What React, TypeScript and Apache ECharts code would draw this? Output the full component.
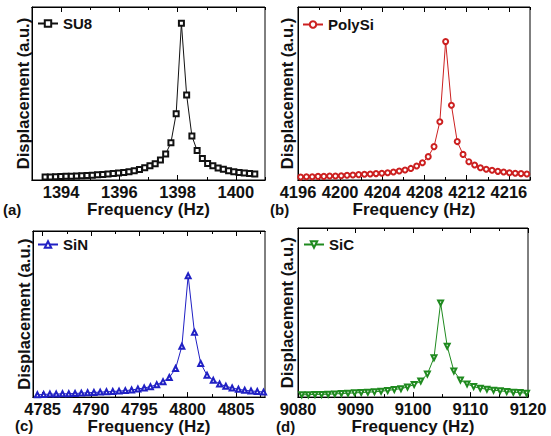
import React, { useEffect, useRef } from "react";
import * as echarts from "echarts";

// Frequency sweeps (Hz) and normalised displacement amplitudes for each resonator
const su8Freq = [1393.45, 1393.63, 1393.81, 1393.99, 1394.17, 1394.35, 1394.53, 1394.71, 1394.89, 1395.07, 1395.25, 1395.43, 1395.61, 1395.79, 1395.97, 1396.15, 1396.33, 1396.51, 1396.69, 1396.87, 1397.05, 1397.23, 1397.41, 1397.59, 1397.77, 1397.95, 1398.13, 1398.31, 1398.49, 1398.67, 1398.85, 1399.03, 1399.21, 1399.39, 1399.57, 1399.75, 1399.93, 1400.11, 1400.29, 1400.47, 1400.65];
const su8Disp = [0.017, 0.018, 0.019, 0.02, 0.021, 0.022, 0.023, 0.025, 0.026, 0.028, 0.03, 0.032, 0.034, 0.037, 0.04, 0.044, 0.048, 0.054, 0.061, 0.071, 0.083, 0.094, 0.116, 0.15, 0.216, 0.383, 0.906, 0.491, 0.254, 0.17, 0.125, 0.096, 0.083, 0.069, 0.062, 0.054, 0.048, 0.044, 0.04, 0.037, 0.035];

const polySiFreq = [4196.25, 4196.8, 4197.35, 4197.9, 4198.45, 4199.0, 4199.55, 4200.1, 4200.65, 4201.2, 4201.75, 4202.3, 4202.85, 4203.4, 4203.95, 4204.5, 4205.05, 4205.6, 4206.15, 4206.7, 4207.25, 4207.8, 4208.35, 4208.9, 4209.45, 4210.0, 4210.55, 4211.1, 4211.65, 4212.2, 4212.75, 4213.3, 4213.85, 4214.4, 4214.95, 4215.5, 4216.05, 4216.6, 4217.15, 4217.7];
const polySiDisp = [0.017, 0.019, 0.019, 0.021, 0.021, 0.023, 0.023, 0.025, 0.027, 0.029, 0.031, 0.033, 0.035, 0.037, 0.039, 0.042, 0.046, 0.052, 0.058, 0.067, 0.081, 0.1, 0.135, 0.193, 0.337, 0.8, 0.432, 0.222, 0.148, 0.106, 0.087, 0.071, 0.062, 0.056, 0.05, 0.046, 0.042, 0.039, 0.037, 0.035];

const siNFreq = [4784.45, 4785.1, 4785.75, 4786.4, 4787.05, 4787.7, 4788.35, 4789.0, 4789.65, 4790.3, 4790.95, 4791.6, 4792.25, 4792.9, 4793.55, 4794.2, 4794.85, 4795.5, 4796.15, 4796.8, 4797.45, 4798.1, 4798.75, 4799.4, 4800.05, 4800.7, 4801.35, 4802.0, 4802.65, 4803.3, 4803.95, 4804.6, 4805.25, 4805.9, 4806.55, 4807.2, 4807.85];
const siNDisp = [0.014, 0.016, 0.018, 0.018, 0.02, 0.02, 0.022, 0.024, 0.026, 0.028, 0.03, 0.032, 0.034, 0.036, 0.039, 0.043, 0.049, 0.055, 0.063, 0.075, 0.093, 0.118, 0.172, 0.306, 0.73, 0.391, 0.203, 0.132, 0.101, 0.079, 0.065, 0.055, 0.047, 0.041, 0.037, 0.034, 0.03];

const siCFreq = [9080.65, 9081.8, 9082.95, 9084.1, 9085.25, 9086.4, 9087.55, 9088.7, 9089.85, 9091.0, 9092.15, 9093.3, 9094.45, 9095.6, 9096.75, 9097.9, 9099.05, 9100.2, 9101.35, 9102.5, 9103.65, 9104.8, 9105.95, 9107.1, 9108.25, 9109.4, 9110.55, 9111.7, 9112.85, 9114.0, 9115.15, 9116.3, 9117.45, 9118.6, 9119.75];
const siCDisp = [0.014, 0.014, 0.016, 0.016, 0.017, 0.019, 0.021, 0.023, 0.025, 0.027, 0.029, 0.031, 0.035, 0.039, 0.045, 0.05, 0.06, 0.074, 0.095, 0.136, 0.233, 0.557, 0.301, 0.155, 0.101, 0.078, 0.062, 0.052, 0.047, 0.041, 0.037, 0.033, 0.029, 0.027, 0.023];

// Axis ranges and tick positions
const su8Range = [1393, 1401];
const su8Major = [1394, 1396, 1398, 1400];
const su8Minor = [1393, 1395, 1397, 1399, 1401];

const polySiRange = [4196, 4218];
const polySiMajor = [4196, 4200, 4204, 4208, 4212, 4216];
const polySiMinor = [4198, 4202, 4206, 4210, 4214, 4218];

const siNRange = [4784, 4808];
const siNMajor = [4785, 4790, 4795, 4800, 4805];
const siNMinor = [4787.5, 4792.5, 4797.5, 4802.5, 4807.5];

const siCRange = [9080, 9120];
const siCMajor = [9080, 9090, 9100, 9110, 9120];
const siCMinor = [9085, 9095, 9105, 9115];

const FONT = '"Liberation Sans", Arial, sans-serif';

type Panel = {
  name: string;
  tag: string;
  freq: number[];
  disp: number[];
  range: number[];
  major: number[];
  minor: number[];
  color: string;
  symbol: string;
  rotate: number;
  grid: { left: number; top: number; width: number; height: number };
  xNameGap: number;
  yNameGap: number;
  legendPos: { left: number; top: number };
  tagPos: { x: number; y: number };
};

const panels: Panel[] = [
  {
    name: "SU8", tag: "(a)", freq: su8Freq, disp: su8Disp, range: su8Range, major: su8Major, minor: su8Minor,
    color: "#111111", symbol: "emptyRect", rotate: 0,
    grid: { left: 32, top: 7, width: 233, height: 173 }, xNameGap: 15, yNameGap: 1,
    legendPos: { left: 37, top: 16 }, tagPos: { x: 3, y: 210 },
  },
  {
    name: "PolySi", tag: "(b)", freq: polySiFreq, disp: polySiDisp, range: polySiRange, major: polySiMajor, minor: polySiMinor,
    color: "#cc2020", symbol: "emptyCircle", rotate: 0,
    grid: { left: 298, top: 7, width: 232, height: 173 }, xNameGap: 20, yNameGap: 3,
    legendPos: { left: 302, top: 17 }, tagPos: { x: 270, y: 210 },
  },
  {
    name: "SiN", tag: "(c)", freq: siNFreq, disp: siNDisp, range: siNRange, major: siNMajor, minor: siNMinor,
    color: "#2020c4", symbol: "emptyTriangle", rotate: 0,
    grid: { left: 33, top: 231, width: 232, height: 169 }, xNameGap: 17, yNameGap: 1,
    legendPos: { left: 37, top: 237 }, tagPos: { x: 15, y: 426 },
  },
  {
    name: "SiC", tag: "(d)", freq: siCFreq, disp: siCDisp, range: siCRange, major: siCMajor, minor: siCMinor,
    color: "#1f8a1f", symbol: "emptyTriangle", rotate: 180,
    grid: { left: 298, top: 228, width: 230, height: 172 }, xNameGap: 18, yNameGap: 3,
    legendPos: { left: 303, top: 237 }, tagPos: { x: 276, y: 427 },
  },
];

function buildOption() {
  const grid: any[] = [];
  const xAxis: any[] = [];
  const yAxis: any[] = [];
  const series: any[] = [];
  const legend: any[] = [];
  const graphic: any[] = [];

  panels.forEach((p, k) => {
    grid.push({ ...p.grid, show: true, borderColor: "#000", borderWidth: 1, backgroundColor: "transparent" });

    const base = {
      type: "value",
      gridIndex: k,
      min: p.range[0],
      max: p.range[1],
      splitLine: { show: false },
      axisLine: { show: true, lineStyle: { color: "#000", width: 1 } },
    };
    // bottom axis: labelled major ticks
    xAxis.push({
      ...base,
      position: "bottom",
      name: "Frequency (Hz)",
      nameLocation: "middle",
      nameGap: p.xNameGap,
      nameTextStyle: { fontFamily: FONT, fontWeight: "bold", fontSize: 17, color: "#111" },
      axisTick: { show: true, inside: true, length: 5, customValues: p.major, lineStyle: { color: "#000" } },
      axisLabel: {
        show: true, customValues: p.major, margin: 3, fontFamily: FONT, fontWeight: "bold", fontSize: 16.5, color: "#111",
        formatter: (v: number) => String(v),
        showMinLabel: true, showMaxLabel: true, hideOverlap: false,
      },
    });
    // bottom axis: minor ticks
    xAxis.push({
      ...base,
      position: "bottom",
      axisTick: { show: true, inside: true, length: 3, customValues: p.minor, lineStyle: { color: "#000" } },
      axisLabel: { show: false },
    });
    // top axis: mirrored ticks
    xAxis.push({
      ...base,
      position: "top",
      axisTick: { show: true, inside: true, length: 5, customValues: p.major, lineStyle: { color: "#000" } },
      axisLabel: { show: false },
    });
    xAxis.push({
      ...base,
      position: "top",
      axisTick: { show: true, inside: true, length: 3, customValues: p.minor, lineStyle: { color: "#000" } },
      axisLabel: { show: false },
    });

    yAxis.push({
      type: "value",
      gridIndex: k,
      min: 0,
      max: 1,
      splitLine: { show: false },
      axisLine: { show: true, lineStyle: { color: "#000", width: 1 } },
      axisTick: { show: false },
      axisLabel: { show: false },
      name: "Displacement (a.u.)",
      nameLocation: "middle",
      nameRotate: 90,
      nameGap: p.yNameGap,
      nameTextStyle: { fontFamily: FONT, fontWeight: "bold", fontSize: 16.5, color: "#111" },
    });

    series.push({
      type: "line",
      name: p.name,
      xAxisIndex: k * 4,
      yAxisIndex: k,
      data: p.freq.map((f, i) => [f, p.disp[i]]),
      symbol: p.symbol,
      symbolSize: 5,
      symbolRotate: p.rotate,
      showAllSymbol: true,
      color: p.color,
      lineStyle: { color: p.color, width: 1 },
      itemStyle: { color: p.color, borderColor: p.color, borderWidth: 1 },
    });

    legend.push({
      data: [p.name],
      left: p.legendPos.left,
      top: p.legendPos.top,
      itemWidth: 20,
      itemHeight: 8,
      padding: 0,
      textStyle: { fontFamily: FONT, fontWeight: "bold", fontSize: 15, color: "#111" },
    });

    graphic.push({
      type: "text",
      left: p.tagPos.x,
      top: p.tagPos.y - 8,
      style: { text: p.tag, font: `bold 15px ${FONT}`, fill: "#111" },
    });
  });

  return { animation: false, backgroundColor: "#fff", grid, xAxis, yAxis, series, legend, graphic };
}

export default function App() {
  const ref = useRef<HTMLDivElement>(null);
  useEffect(() => {
    if (!ref.current) return;
    const chart = echarts.init(ref.current, undefined, { renderer: "svg" });
    chart.setOption(buildOption() as any);
    return () => chart.dispose();
  }, []);
  return (
    <div
      ref={ref}
      style={{ position: "absolute", left: 0, top: 0, width: 551, height: 436, background: "#fff" }}
    />
  );
}
